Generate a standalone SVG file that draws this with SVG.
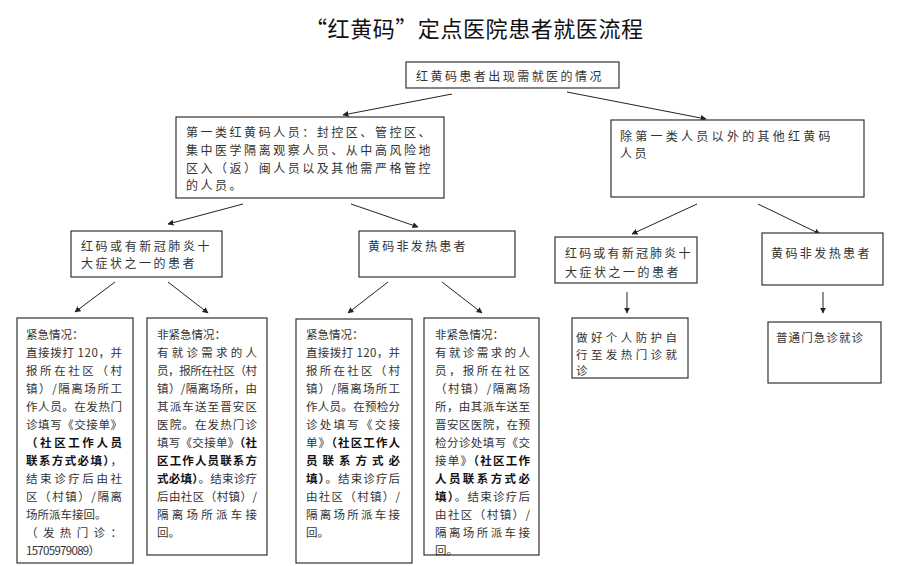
<svg xmlns="http://www.w3.org/2000/svg" width="900" height="566" viewBox="0 0 900 566">
<style>
.bg{fill:#fff}
.box{fill:#fff;stroke:#333;stroke-width:1.2}
.t{font-family:"Noto Sans CJK SC","Noto Sans CJK JP",sans-serif;fill:#333}
.m{font-size:12px;letter-spacing:2.5px}
.s{font-size:11.5px}
.b{font-weight:bold;fill:#111}
.ln{stroke:#222;stroke-width:1;fill:none;marker-end:url(#ah)}
</style>
<defs>
<marker id="ah" viewBox="0 0 10 10" refX="9" refY="5" markerWidth="6" markerHeight="6" markerUnits="userSpaceOnUse" orient="auto">
<path d="M0,0 L10,5 L0,10 z" fill="#222"/>
</marker>
</defs>
<rect class="bg" x="0" y="0" width="900" height="566"/>
<text id="title" class="t" x="305" y="37" font-size="22" textLength="338" lengthAdjust="spacing" style="fill:#111">“红黄码”定点医院患者就医流程</text>

<g id="connectors">
<line class="ln" x1="452" y1="94" x2="343" y2="115"/>
<line class="ln" x1="567" y1="92" x2="706" y2="119"/>
<line class="ln" x1="243" y1="204" x2="168" y2="224"/>
<line class="ln" x1="351" y1="204" x2="418" y2="227"/>
<line class="ln" x1="697" y1="204" x2="632" y2="234"/>
<line class="ln" x1="758" y1="204" x2="820" y2="234"/>
<line class="ln" x1="115" y1="282" x2="75" y2="312"/>
<line class="ln" x1="168" y1="282" x2="208" y2="313"/>
<line class="ln" x1="388" y1="282" x2="348" y2="313"/>
<line class="ln" x1="442" y1="282" x2="482" y2="313"/>
<line class="ln" x1="627" y1="292" x2="627" y2="313"/>
<line class="ln" x1="823" y1="292" x2="823" y2="313"/>
</g>

<g id="n-start">
<rect class="box" x="406" y="62" width="213" height="26"/>
<text class="t m" x="416" y="80.5" textLength="188" lengthAdjust="spacing">红黄码患者出现需就医的情况</text>
</g>

<g id="n-cat1">
<rect class="box" x="176" y="117" width="268" height="81"/>
<text class="t m" x="186" y="137" textLength="247" lengthAdjust="spacing">第一类红黄码人员：封控区、管控区、</text>
<text class="t m" x="186" y="154.8" textLength="247" lengthAdjust="spacing">集中医学隔离观察人员、从中高风险地</text>
<text class="t m" x="186" y="172.6" textLength="247" lengthAdjust="spacing">区入（返）闽人员以及其他需严格管控</text>
<text class="t m" x="186" y="190.4">的人员。</text>
</g>

<g id="n-cat2">
<rect class="box" x="611" y="120" width="253" height="77"/>
<text class="t m" x="620" y="140.5" textLength="213" lengthAdjust="spacing">除第一类人员以外的其他红黄码</text>
<text class="t m" x="620" y="158.3">人员</text>
</g>

<g id="n-red1">
<rect class="box" x="71" y="231" width="151" height="46"/>
<text class="t m" x="81" y="250.5" textLength="131" lengthAdjust="spacing">红码或有新冠肺炎十</text>
<text class="t m" x="81" y="268.3">大症状之一的患者</text>
</g>

<g id="n-yellow1">
<rect class="box" x="359" y="231" width="156" height="46"/>
<text class="t m" x="368" y="250.5" textLength="100" lengthAdjust="spacing">黄码非发热患者</text>
</g>

<g id="n-red2">
<rect class="box" x="555" y="237" width="142" height="46"/>
<text class="t m" x="565" y="258" textLength="128" lengthAdjust="spacing">红码或有新冠肺炎十</text>
<text class="t m" x="565" y="277">大症状之一的患者</text>
</g>

<g id="n-yellow2">
<rect class="box" x="762" y="233" width="121" height="52"/>
<text class="t m" x="771" y="258" textLength="101" lengthAdjust="spacing">黄码非发热患者</text>
</g>

<g id="n-urgent1">
<rect class="box" x="17" y="318" width="116" height="245"/>
<text class="t s" x="26" y="338.5">紧急情况：</text>
<text class="t s" x="26" y="356.6" textLength="96" lengthAdjust="spacing">直接拨打 120，并</text>
<text class="t s" x="26" y="374.6" textLength="96" lengthAdjust="spacing">报所在社区（村</text>
<text class="t s" x="26" y="392.7" textLength="96" lengthAdjust="spacing">镇）/隔离场所工</text>
<text class="t s" x="26" y="410.7" textLength="96" lengthAdjust="spacing">作人员。在发热门</text>
<text class="t s" x="26" y="428.8" textLength="96" lengthAdjust="spacing">诊填写《交接单》</text>
<text class="t s b" x="26" y="446.8" textLength="96" lengthAdjust="spacing">（社区工作人员</text>
<text class="t s" x="26" y="464.9" textLength="96" lengthAdjust="spacing"><tspan class="b">联系方式必填）</tspan>，</text>
<text class="t s" x="26" y="482.9" textLength="96" lengthAdjust="spacing">结束诊疗后由社</text>
<text class="t s" x="26" y="501" textLength="96" lengthAdjust="spacing">区（村镇）/隔离</text>
<text class="t s" x="26" y="519">场所派车接回。</text>
<text class="t s" x="26" y="537.1" textLength="96" lengthAdjust="spacing">（发热门诊：</text>
<text class="t s" x="26" y="555.1" textLength="74" lengthAdjust="spacing">15705979089）</text>
</g>

<g id="n-nonurgent1">
<rect class="box" x="147" y="318" width="120" height="237"/>
<text class="t s" x="157" y="338.5">非紧急情况：</text>
<text class="t s" x="157" y="356.6" textLength="100" lengthAdjust="spacing">有就诊需求的人</text>
<text class="t s" x="157" y="374.6" textLength="100" lengthAdjust="spacing">员，报所在社区（村</text>
<text class="t s" x="157" y="392.7" textLength="100" lengthAdjust="spacing">镇）/隔离场所，由</text>
<text class="t s" x="157" y="410.7" textLength="100" lengthAdjust="spacing">其派车送至晋安区</text>
<text class="t s" x="157" y="428.8" textLength="100" lengthAdjust="spacing">医院。在发热门诊</text>
<text class="t s" x="157" y="446.8" textLength="100" lengthAdjust="spacing">填写《交接单》<tspan class="b">（社</tspan></text>
<text class="t s b" x="157" y="464.9" textLength="100" lengthAdjust="spacing">区工作人员联系方</text>
<text class="t s" x="157" y="482.9" textLength="100" lengthAdjust="spacing"><tspan class="b">式必填）</tspan>。结束诊疗</text>
<text class="t s" x="157" y="501" textLength="100" lengthAdjust="spacing">后由社区（村镇）/</text>
<text class="t s" x="157" y="519" textLength="100" lengthAdjust="spacing">隔离场所派车接</text>
<text class="t s" x="157" y="537.1">回。</text>
</g>

<g id="n-urgent2">
<rect class="box" x="296" y="319" width="116" height="244"/>
<text class="t s" x="306" y="338.5">紧急情况：</text>
<text class="t s" x="306" y="356.6" textLength="94" lengthAdjust="spacing">直接拨打 120，并</text>
<text class="t s" x="306" y="374.6" textLength="94" lengthAdjust="spacing">报所在社区（村</text>
<text class="t s" x="306" y="392.7" textLength="94" lengthAdjust="spacing">镇）/隔离场所工</text>
<text class="t s" x="306" y="410.7" textLength="94" lengthAdjust="spacing">作人员。在预检分</text>
<text class="t s" x="306" y="428.8" textLength="94" lengthAdjust="spacing">诊处填写《交接</text>
<text class="t s" x="306" y="446.8" textLength="94" lengthAdjust="spacing">单》<tspan class="b">（社区工作人</tspan></text>
<text class="t s b" x="306" y="464.9" textLength="94" lengthAdjust="spacing">员联系方式必</text>
<text class="t s" x="306" y="482.9" textLength="94" lengthAdjust="spacing"><tspan class="b">填）</tspan>。结束诊疗后</text>
<text class="t s" x="306" y="501" textLength="94" lengthAdjust="spacing">由社区（村镇）/</text>
<text class="t s" x="306" y="519" textLength="94" lengthAdjust="spacing">隔离场所派车接</text>
<text class="t s" x="306" y="537.1">回。</text>
</g>

<g id="n-nonurgent2">
<rect class="box" x="424" y="318" width="115" height="237"/>
<text class="t s" x="435" y="338.5">非紧急情况：</text>
<text class="t s" x="435" y="356.6" textLength="95" lengthAdjust="spacing">有就诊需求的人</text>
<text class="t s" x="435" y="374.6" textLength="95" lengthAdjust="spacing">员，报所在社区</text>
<text class="t s" x="435" y="392.7" textLength="95" lengthAdjust="spacing">（村镇）/隔离场</text>
<text class="t s" x="435" y="410.7" textLength="95" lengthAdjust="spacing">所，由其派车送至</text>
<text class="t s" x="435" y="428.8" textLength="95" lengthAdjust="spacing">晋安区医院，在预</text>
<text class="t s" x="435" y="446.8" textLength="95" lengthAdjust="spacing">检分诊处填写《交</text>
<text class="t s" x="435" y="464.9" textLength="95" lengthAdjust="spacing">接单》<tspan class="b">（社区工作</tspan></text>
<text class="t s b" x="435" y="482.9" textLength="95" lengthAdjust="spacing">人员联系方式必</text>
<text class="t s" x="435" y="501" textLength="95" lengthAdjust="spacing"><tspan class="b">填）</tspan>。结束诊疗后</text>
<text class="t s" x="435" y="519" textLength="95" lengthAdjust="spacing">由社区（村镇）/</text>
<text class="t s" x="435" y="537.1" textLength="95" lengthAdjust="spacing">隔离场所派车接</text>
<text class="t s" x="435" y="555.1">回。</text>
</g>

<g id="n-selffever">
<rect class="box" x="572" y="318" width="116" height="60"/>
<text class="t s" x="576" y="342" textLength="101" lengthAdjust="spacing">做好个人防护自</text>
<text class="t s" x="576" y="359" textLength="101" lengthAdjust="spacing">行至发热门诊就</text>
<text class="t s" x="576" y="375">诊</text>
</g>

<g id="n-general">
<rect class="box" x="768" y="322" width="113" height="61"/>
<text class="t s" x="776" y="342" textLength="87" lengthAdjust="spacing">普通门急诊就诊</text>
</g>
</svg>
